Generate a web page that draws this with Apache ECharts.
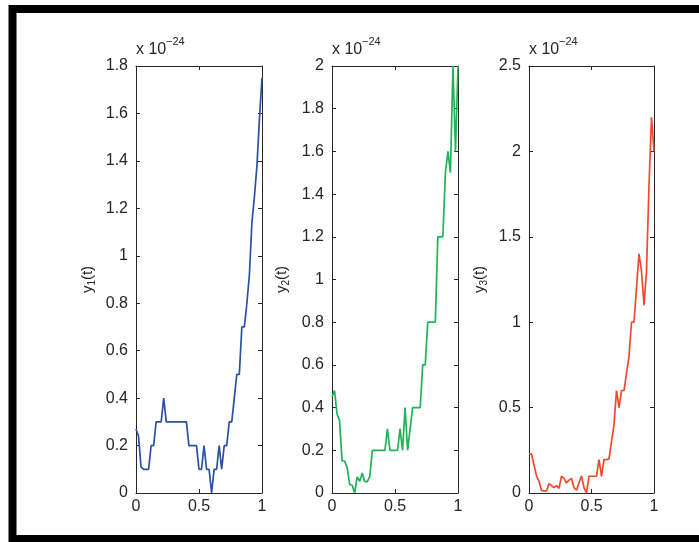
<!DOCTYPE html>
<html>
<head>
<meta charset="utf-8">
<script src="https://cdn.jsdelivr.net/npm/echarts@6/dist/echarts.min.js"></script>
<style>
  html, body { margin: 0; padding: 0; background: #fff; }
  #chart { width: 699px; height: 542px; }
</style>
</head>
<body>
<div id="chart"></div>
<script>
// Sample times (shared by all three components)
const tValues = [
  0, 0.02, 0.04, 0.06, 0.08, 0.10, 0.12, 0.14, 0.16, 0.18,
  0.20, 0.22, 0.24, 0.26, 0.28, 0.30, 0.32, 0.34, 0.36, 0.38,
  0.40, 0.42, 0.44, 0.46, 0.48, 0.50, 0.52, 0.54, 0.56, 0.58,
  0.60, 0.62, 0.64, 0.66, 0.68, 0.70, 0.72, 0.74, 0.76, 0.78,
  0.80, 0.82, 0.84, 0.86, 0.88, 0.90, 0.92, 0.94, 0.96, 0.98, 1.00
];

// Components in units of 10^-24
const y1Values = [
  0.27, 0.24, 0.11, 0.10, 0.10, 0.10, 0.20, 0.20, 0.30, 0.30,
  0.30, 0.40, 0.30, 0.30, 0.30, 0.30, 0.30, 0.30, 0.30, 0.30,
  0.30, 0.20, 0.20, 0.20, 0.20, 0.10, 0.10, 0.20, 0.10, 0.10,
  0.00, 0.10, 0.10, 0.20, 0.10, 0.20, 0.20, 0.30, 0.30, 0.40,
  0.50, 0.50, 0.70, 0.70, 0.80, 0.92, 1.14, 1.25, 1.38, 1.58, 1.75
];
const y2Values = [
  0.45, 0.48, 0.37, 0.34, 0.15, 0.15, 0.12, 0.04, 0.036, 0.00,
  0.075, 0.055, 0.094, 0.053, 0.053, 0.078, 0.20, 0.20, 0.20, 0.20,
  0.20, 0.20, 0.30, 0.20, 0.20, 0.20, 0.20, 0.30, 0.20, 0.40,
  0.20, 0.30, 0.40, 0.40, 0.40, 0.40, 0.60, 0.60, 0.80, 0.80,
  0.80, 0.80, 1.20, 1.20, 1.20, 1.50, 1.60, 1.50, 2.00, 1.60, 2.00
];
const y3Values = [
  0.225, 0.23, 0.165, 0.10, 0.07, 0.015, 0.012, 0.012, 0.055, 0.043,
  0.031, 0.043, 0.027, 0.098, 0.086, 0.059, 0.075, 0.086, 0.031, 0.016,
  0.06, 0.10, 0.031, 0.00, 0.098, 0.098, 0.098, 0.098, 0.195, 0.098,
  0.195, 0.195, 0.20, 0.30, 0.40, 0.60, 0.50, 0.60, 0.60, 0.70,
  0.80, 1.00, 1.00, 1.20, 1.40, 1.30, 1.10, 1.30, 1.80, 2.20, 2.00
];

const yNames = ['y', 'y', 'y'];
const ySubs = ['1', '2', '3'];
const yMax = [1.8, 2, 2.5];
const yStep = [0.2, 0.2, 0.5];
const xTickStep = 0.5;
const exponentText = ['x 10', '\u221224'];
const lineColors = ['#2B51A3', '#21B257', '#F2492E'];
const seriesValues = [y1Values, y2Values, y3Values];

const panelLeft = [136, 332, 529];
const panelWidth = [126, 126, 125];
const panelTop = 66;
const panelHeight = 427;
const nameGaps = [39, 41, 40];

const axisColor = '#262626';
const FONT = 'Liberation Sans, Arial, Helvetica, sans-serif';

const fmt = v => String(Number(v.toFixed(2)));

const grids = [], xAxes = [], yAxes = [], series = [], graphics = [];

for (let i = 0; i < 3; i++) {
  grids.push({
    left: panelLeft[i], top: panelTop,
    width: panelWidth[i], height: panelHeight,
    containLabel: false
  });
  const tickStyle = { show: true, inside: true, length: 4, lineStyle: { color: axisColor, width: 1 } };
  const lineStyle = { show: true, onZero: false, lineStyle: { color: axisColor, width: 1 } };
  // bottom x axis with labels
  xAxes.push({
    gridIndex: i, type: 'value', position: 'bottom', min: 0, max: 1, interval: xTickStep,
    axisLine: lineStyle, axisTick: tickStyle, splitLine: { show: false },
    axisLabel: { color: axisColor, fontFamily: FONT, fontSize: 16, margin: 6, formatter: fmt }
  });
  // top x axis (box edge, mirrored ticks)
  xAxes.push({
    gridIndex: i, type: 'value', position: 'top', min: 0, max: 1, interval: xTickStep,
    axisLine: lineStyle, axisTick: tickStyle, splitLine: { show: false },
    axisLabel: { show: false }
  });
  // left y axis with labels and name
  yAxes.push({
    gridIndex: i, type: 'value', position: 'left', min: 0, max: yMax[i], interval: yStep[i],
    axisLine: lineStyle, axisTick: tickStyle, splitLine: { show: false },
    axisLabel: { color: axisColor, fontFamily: FONT, fontSize: 16, margin: 8, formatter: fmt },
    name: '{a|' + yNames[i] + '}{b|' + ySubs[i] + '}{a|(t)}',
    nameLocation: 'middle', nameGap: nameGaps[i],
    nameTextStyle: {
      rich: {
        a: { fontFamily: FONT, fontSize: 15, color: axisColor },
        b: { fontFamily: FONT, fontSize: 10, color: axisColor, padding: [8, 0, 0, 0] }
      }
    }
  });
  // right y axis (box edge, mirrored ticks)
  yAxes.push({
    gridIndex: i, type: 'value', position: 'right', min: 0, max: yMax[i], interval: yStep[i],
    axisLine: lineStyle, axisTick: tickStyle, splitLine: { show: false },
    axisLabel: { show: false }
  });

  series.push({
    type: 'line',
    xAxisIndex: 2 * i, yAxisIndex: 2 * i,
    data: tValues.map((t, k) => [t, seriesValues[i][k]]),
    showSymbol: false, symbol: 'none',
    clip: true,
    lineStyle: { color: lineColors[i], width: 1.7 },
    animation: false
  });

  // exponent annotation above each panel
  graphics.push({
    type: 'text', left: panelLeft[i], top: 42,
    style: { text: exponentText[0], font: '16px ' + FONT, fill: axisColor }
  });
  graphics.push({
    type: 'text', left: panelLeft[i] + 30, top: 36,
    style: { text: exponentText[1], font: '11px ' + FONT, fill: axisColor }
  });
}

// heavy black frame around the figure
graphics.push({
  type: 'rect', silent: true,
  shape: { x: 12.5, y: 9, width: 800, height: 530 },
  style: { fill: 'none', stroke: '#000', lineWidth: 8 }
});

const chart = echarts.init(document.getElementById('chart'), null, { renderer: 'canvas' });
chart.setOption({
  animation: false,
  backgroundColor: '#fff',
  grid: grids,
  xAxis: xAxes,
  yAxis: yAxes,
  series: series,
  graphic: graphics
});
</script>
</body>
</html>
